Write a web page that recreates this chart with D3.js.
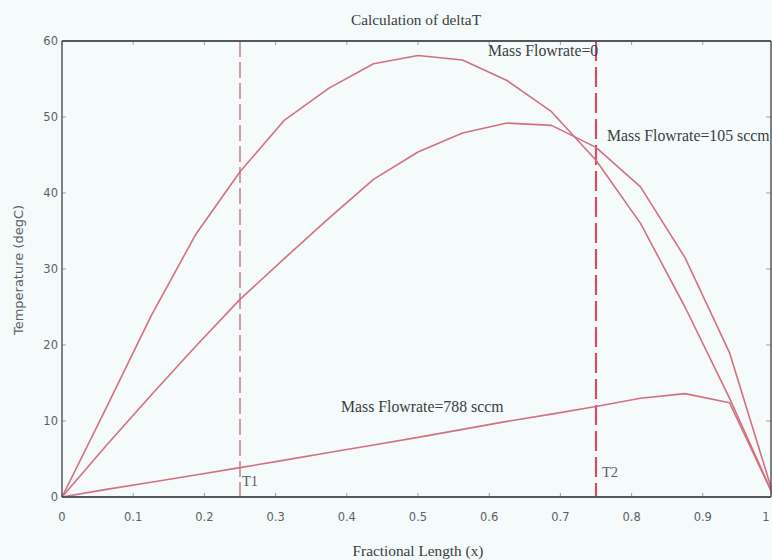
<!DOCTYPE html>
<html>
<head>
<meta charset="utf-8">
<script src="https://cdn.jsdelivr.net/npm/d3@7"></script>
<style>
  html, body { margin: 0; padding: 0; background: #f5fafb; }
  svg { display: block; }
</style>
</head>
<body>
<svg id="chart" width="772" height="560"></svg>
<script>
// Fractional length positions along the channel
const positions = [0, 0.0625, 0.125, 0.1875, 0.25, 0.3125, 0.375, 0.4375, 0.5,
                   0.5625, 0.625, 0.6875, 0.75, 0.8125, 0.875, 0.9375, 1];

// Temperature rise (degC) for each mass flowrate
const flowrate0   = [0, 11.8, 23.8, 34.5, 42.8, 49.6, 53.8, 57.0, 58.1,
                     57.5, 54.8, 50.7, 44.3, 36.0, 25.0, 13.0, 0];
const flowrate105 = [0, 6.8, 13.4, 19.8, 26.0, 31.4, 36.7, 41.8, 45.4,
                     47.9, 49.2, 48.9, 46.0, 40.8, 31.5, 19.0, 0];
const flowrate788 = [0, 1.0, 1.95, 2.9, 3.86, 4.85, 5.85, 6.85, 7.85,
                     8.9, 9.95, 10.9, 11.9, 13.0, 13.6, 12.4, 0];

const seriesNames = ["Mass Flowrate=0", "Mass Flowrate=105 sccm", "Mass Flowrate=788 sccm"];

// Sensor positions
const sensorNames = ["T1", "T2"];
const sensorPositions = [0.25, 0.75];

const xTickValues = [0, 0.1, 0.2, 0.3, 0.4, 0.5, 0.6, 0.7, 0.8, 0.9, 1];
const xTickLabels = ["0", "0.1", "0.2", "0.3", "0.4", "0.5", "0.6", "0.7", "0.8", "0.9", "1"];
const yTickValues = [0, 10, 20, 30, 40, 50, 60];
const yTickLabels = ["0", "10", "20", "30", "40", "50", "60"];

(function draw() {
  const svg = d3.select("#chart");
  const plotLeft = 62, plotTop = 41, plotBottom = 497, plotRight = 771;

  const x = d3.scaleLinear().domain([0, 1]).range([plotLeft, 774]);
  const y = d3.scaleLinear().domain([0, 60]).range([plotBottom, plotTop]);

  const serif = "'Liberation Serif', 'Times New Roman', serif";
  const sans = "'DejaVu Sans', Verdana, sans-serif";

  // Tick marks on all four sides, pointing inward
  const tk = svg.append("g").attr("stroke", "#9aa0a4").attr("stroke-width", 1);
  xTickValues.forEach(v => {
    tk.append("line").attr("x1", x(v)).attr("x2", x(v)).attr("y1", plotBottom).attr("y2", plotBottom - 4);
    tk.append("line").attr("x1", x(v)).attr("x2", x(v)).attr("y1", plotTop).attr("y2", plotTop + 4);
  });
  yTickValues.forEach(v => {
    tk.append("line").attr("x1", plotLeft).attr("x2", plotLeft + 4).attr("y1", y(v)).attr("y2", y(v));
    tk.append("line").attr("x1", plotRight).attr("x2", plotRight - 5).attr("y1", y(v)).attr("y2", y(v));
  });

  // Sensor markers
  const markerStyles = [
    { color: "#b8626f", width: 1.2, dash: "16,5" },
    { color: "#d24f6c", width: 2.2, dash: "20,6" }
  ];
  sensorPositions.forEach((p, i) => {
    svg.append("line")
      .attr("x1", x(p)).attr("x2", x(p))
      .attr("y1", plotTop).attr("y2", plotBottom)
      .attr("stroke", markerStyles[i].color)
      .attr("stroke-width", markerStyles[i].width)
      .attr("stroke-dasharray", markerStyles[i].dash);
  });

  // Temperature profiles
  const line = d3.line()
    .x((d, i) => x(positions[i]))
    .y(d => y(d));

  [flowrate0, flowrate105, flowrate788].forEach(s => {
    svg.append("path")
      .datum(s)
      .attr("d", line)
      .attr("fill", "none")
      .attr("stroke", "#d4707f")
      .attr("stroke-width", 1.6)
      .attr("stroke-linejoin", "round");
  });

  // Axes frame
  const frame = svg.append("g").attr("stroke", "#54585c").attr("fill", "none");
  frame.append("line").attr("x1", plotLeft).attr("x2", plotRight).attr("y1", plotTop).attr("y2", plotTop).attr("stroke-width", 2);
  frame.append("line").attr("x1", plotLeft).attr("x2", plotRight).attr("y1", plotBottom).attr("y2", plotBottom).attr("stroke-width", 2);
  frame.append("line").attr("x1", plotLeft).attr("x2", plotLeft).attr("y1", plotTop).attr("y2", plotBottom).attr("stroke-width", 1.5);
  frame.append("line").attr("x1", plotRight).attr("x2", plotRight).attr("y1", plotTop).attr("y2", plotBottom).attr("stroke-width", 1.5);

  // Tick labels (the last one is kept inside the page edge)
  const labelColor = "#5c6165";
  xTickValues.forEach((v, i) => {
    svg.append("text")
      .attr("x", Math.min(x(v), 766)).attr("y", 521)
      .attr("text-anchor", "middle")
      .attr("font-family", sans).attr("font-size", 11.5)
      .attr("fill", labelColor)
      .text(xTickLabels[i]);
  });
  yTickValues.forEach((v, i) => {
    svg.append("text")
      .attr("x", 58).attr("y", y(v))
      .attr("dy", "0.36em")
      .attr("text-anchor", "end")
      .attr("font-family", sans).attr("font-size", 11.5)
      .attr("fill", labelColor)
      .text(yTickLabels[i]);
  });

  // Title and axis labels
  const textColor = "#3a3d40";
  svg.append("text")
    .attr("x", 416).attr("y", 25)
    .attr("text-anchor", "middle")
    .attr("font-family", serif).attr("font-size", 15.3)
    .attr("fill", textColor)
    .text("Calculation of deltaT");

  svg.append("text")
    .attr("x", 418).attr("y", 556)
    .attr("text-anchor", "middle")
    .attr("font-family", serif).attr("font-size", 15.3)
    .attr("fill", textColor)
    .text("Fractional Length (x)");

  svg.append("text")
    .attr("transform", "translate(23,270) rotate(-90)")
    .attr("text-anchor", "middle")
    .attr("font-family", sans).attr("font-size", 13)
    .attr("fill", labelColor)
    .text("Temperature (degC)");

  // Series annotations
  const seriesLabelPos = [[488, 56], [607, 141], [341, 412]];
  seriesNames.forEach((name, i) => {
    svg.append("text")
      .attr("x", seriesLabelPos[i][0]).attr("y", seriesLabelPos[i][1])
      .attr("font-family", serif).attr("font-size", 15.8)
      .attr("fill", textColor)
      .text(name);
  });

  // Sensor annotations
  const sensorLabelPos = [[242, 486], [602, 477]];
  sensorNames.forEach((name, i) => {
    svg.append("text")
      .attr("x", sensorLabelPos[i][0]).attr("y", sensorLabelPos[i][1])
      .attr("font-family", serif).attr("font-size", 14.5)
      .attr("fill", labelColor)
      .text(name);
  });
})();
</script>
</body>
</html>
